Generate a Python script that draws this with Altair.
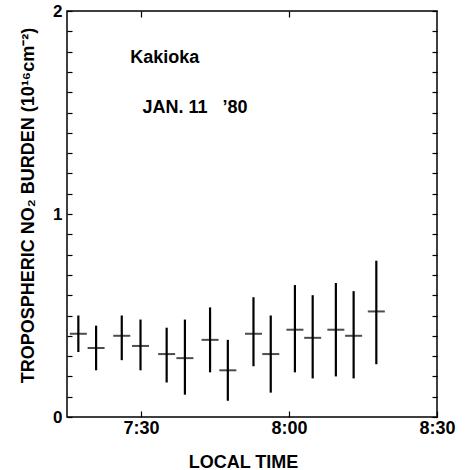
import altair as alt
import pandas as pd

# Tropospheric NO2 column over Kakioka, morning of 11 January 1980.
# Time is given as minutes after 7:00 local time.
minutes = [17.3, 20.9, 26.1, 29.9, 35.2, 38.9, 44.0, 47.6, 52.8, 56.3, 61.2, 64.8, 69.5, 73.1, 77.7]
no2 = [0.41, 0.34, 0.40, 0.35, 0.31, 0.29, 0.38, 0.23, 0.41, 0.31, 0.43, 0.39, 0.43, 0.40, 0.52]
no2_low = [0.32, 0.23, 0.28, 0.23, 0.17, 0.11, 0.22, 0.08, 0.25, 0.12, 0.22, 0.19, 0.20, 0.19, 0.26]
no2_high = [0.50, 0.45, 0.50, 0.48, 0.44, 0.48, 0.54, 0.38, 0.59, 0.50, 0.65, 0.60, 0.66, 0.62, 0.77]

x_ticks = [30, 60, 90]
x_tick_labels = ["7:30", "8:00", "8:30"]
y_ticks = [round(i * 0.1, 1) for i in range(21)]
y_labelled = [0, 1, 2]

notes = ["Kakioka", "JAN.\u00a011\u00a0\u00a0\u00a0\u201980"]
note_x = [27.8, 30.3]
note_y = [1.743, 1.499]
note_size = [18, 18]

W, H = 370, 406
FONT = "Liberation Sans"

df = pd.DataFrame({"t": minutes, "v": no2, "lo": no2_low, "hi": no2_high})
notes_df = pd.DataFrame({"label": notes, "t": note_x, "v": note_y, "size": note_size})

x_label_expr = " : ".join(
    f"datum.value == {v} ? '{lab}'" for v, lab in zip(x_ticks, x_tick_labels)
) + " : ''"
y_label_expr = " : ".join(
    f"datum.value == {v} ? '{v}'" for v in y_labelled
) + " : ''"

xs = alt.Scale(domain=[15, 90], nice=False, zero=False)
ys = alt.Scale(domain=[0, 2], nice=False, zero=False)

# Error bars. Their axes sit on the bottom and left edges with ticks pointing
# into the plot, labels pushed back outside the frame.
bars = alt.Chart(df).mark_rule(color="black", strokeWidth=2.2).encode(
    x=alt.X("t:Q", scale=xs, axis=alt.Axis(
        orient="top", offset=-H, values=x_ticks, labelExpr=x_label_expr,
        tickSize=6, tickColor="black", tickWidth=1.2, domain=False, grid=False,
        labelFont=FONT, labelFontSize=18, labelFontWeight="bold", labelColor="black",
        labelBaseline="top", labelPadding=-8, labelFlush=False,
        title="LOCAL TIME", titleFont=FONT, titleFontSize=18, titleFontWeight="bold",
        titleColor="black", titleX=176, titleY=50, titleAlign="center",
        titleBaseline="alphabetic")),
    y=alt.Y("lo:Q", scale=ys, axis=alt.Axis(
        orient="right", offset=-W, values=y_ticks, labelExpr=y_label_expr,
        tickSize=5, tickColor="black", tickWidth=1.2, domain=False, grid=False,
        labelFont=FONT, labelFontSize=17, labelFontWeight="bold", labelColor="black",
        labelAlign="right", labelBaseline="middle", labelPadding=-10, labelFlush=False,
        title="TROPOSPHERIC NO\u2082 BURDEN (10\u00b9\u2076cm\u207b\u00b2)",
        titleFont=FONT, titleFontSize=18, titleFontWeight="bold", titleColor="black",
        titleAngle=270, titleX=-39, titleY=194, titleAlign="center",
        titleBaseline="middle")),
    y2="hi:Q",
)

# Central values; their axes give the inward ticks on the top and right edges
centers = alt.Chart(df).mark_tick(
    color="black", orient="horizontal", size=17, thickness=2
).encode(
    x=alt.X("t:Q", scale=xs, axis=alt.Axis(
        orient="bottom", offset=-H, values=x_ticks[:2], labels=False, domain=False,
        grid=False, tickSize=6, tickColor="black", tickWidth=1.2, title=None)),
    y=alt.Y("v:Q", scale=ys, axis=alt.Axis(
        orient="left", offset=-W, values=y_ticks, labels=False, domain=False,
        grid=False, tickSize=5, tickColor="black", tickWidth=1.2, title=None)),
)

text = alt.Chart(notes_df).mark_text(
    align="left", baseline="alphabetic", font=FONT, fontWeight="bold", color="black"
).encode(
    x=alt.X("t:Q", scale=xs, axis=None),
    y=alt.Y("v:Q", scale=ys, axis=None),
    text="label:N",
    size=alt.Size("size:Q", scale=None, legend=None),
)

chart = alt.layer(bars, centers, text).resolve_axis(
    x="independent", y="independent"
).properties(
    width=W, height=H,
    autosize=alt.AutoSizeParams(type="none"),
    padding={"left": 67, "top": 11, "right": 29, "bottom": 53},
    background="white",
).configure_view(stroke="black", strokeWidth=1.5)

chart.save("out.html", embed_options={"renderer": "svg", "actions": False})
